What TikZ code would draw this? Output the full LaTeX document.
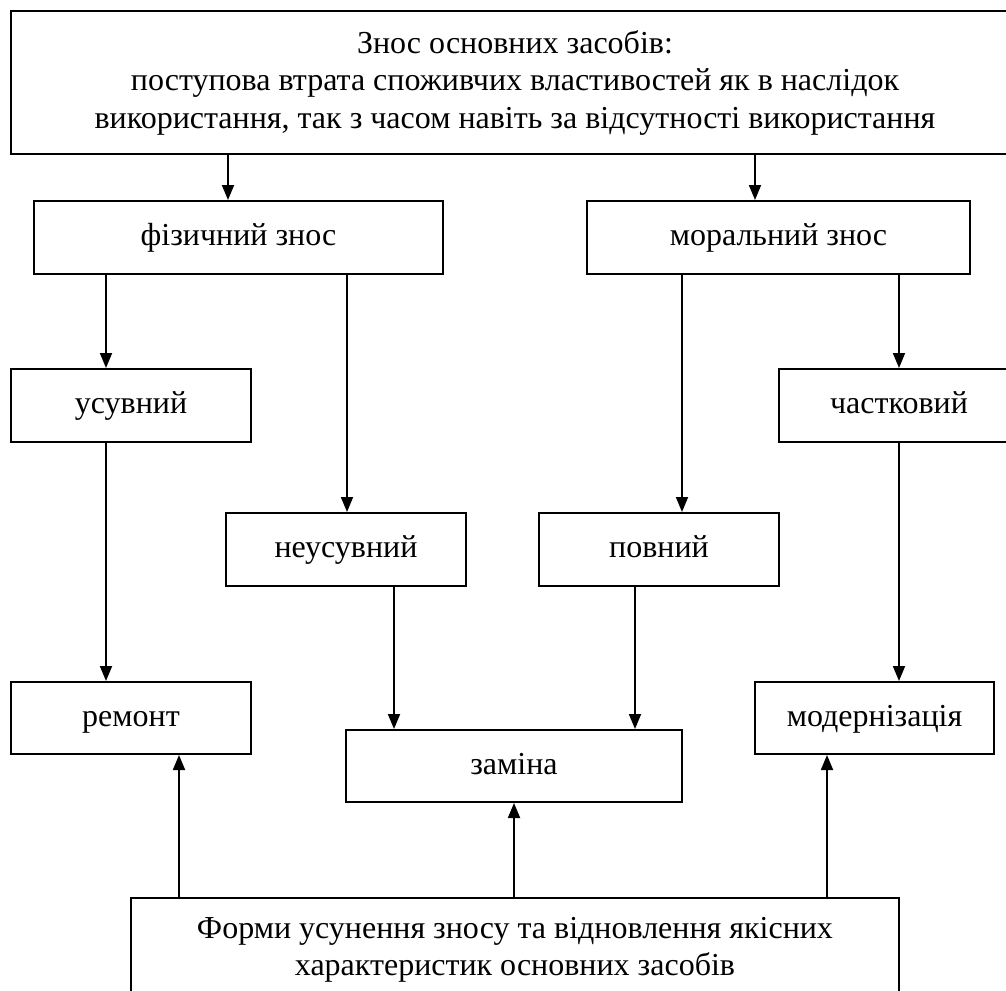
\documentclass[tikz,border=0pt]{standalone}
\usepackage{fontspec}
\setmainfont{Liberation Serif}
\usetikzlibrary{arrows.meta}
\tikzset{
  box/.style={draw, line width=2pt, inner sep=0pt, align=center, font=\fontsize{32}{37.5}\selectfont},
  sbox/.style={box, text height=23pt, text depth=7pt},
  arr/.style={line width=1.8pt, -{Triangle[width=12pt,length=15pt]}},
}
\begin{document}
\begin{tikzpicture}[x=1pt,y=-1pt]
\useasboundingbox (0,0) rectangle (1006,990);
\clip (0,0) rectangle (1006,990);
% boxes (centers from pixel measurements)
\node[box, minimum width=1008pt, minimum height=143pt] (top) at (515,82.5)
  {Знос основних засобів:\\поступова втрата споживчих властивостей як в наслідок\\використання, так з часом навіть за відсутності використання};
\node[sbox, minimum width=409pt, minimum height=73pt] (fiz) at (238.5,237.5) {фізичний знос};
\node[sbox, minimum width=383pt, minimum height=73pt] (mor) at (778.5,237.5) {моральний знос};
\node[sbox, minimum width=240pt, minimum height=73pt] (usu) at (131,405.5) {усувний};
\node[sbox, minimum width=240pt, minimum height=73pt] (cha) at (899,405.5) {частковий};
\node[sbox, minimum width=240pt, minimum height=73pt] (neu) at (346,549.5) {неусувний};
\node[sbox, minimum width=240pt, minimum height=73pt] (pov) at (659,549.5) {повний};
\node[sbox, minimum width=240pt, minimum height=72pt] (rem) at (131,718) {ремонт};
\node[sbox, minimum width=336pt, minimum height=72pt] (zam) at (514,766) {заміна};
\node[sbox, minimum width=239pt, minimum height=72pt] (mod) at (874.5,718) {модернізація};
\node[box, minimum width=768pt, minimum height=104pt] (bot) at (515,950)
  {Форми усунення зносу та відновлення якісних\\характеристик основних засобів};
% column coordinates
\coordinate (c1) at (228,0);
\coordinate (c2) at (755,0);
\coordinate (c3) at (106,0);
\coordinate (c4) at (347,0);
\coordinate (c5) at (682,0);
\coordinate (c6) at (899,0);
\coordinate (c7) at (394,0);
\coordinate (c8) at (635,0);
\coordinate (c9) at (179,0);
\coordinate (c10) at (514,0);
\coordinate (c11) at (827,0);
% connectors
\draw[arr] (top.south -| c1) -- (fiz.north -| c1);
\draw[arr] (top.south -| c2) -- (mor.north -| c2);
\draw[arr] (fiz.south -| c3) -- (usu.north -| c3);
\draw[arr] (fiz.south -| c4) -- (neu.north -| c4);
\draw[arr] (mor.south -| c5) -- (pov.north -| c5);
\draw[arr] (mor.south -| c6) -- (cha.north -| c6);
\draw[arr] (usu.south -| c3) -- (rem.north -| c3);
\draw[arr] (neu.south -| c7) -- (zam.north -| c7);
\draw[arr] (pov.south -| c8) -- (zam.north -| c8);
\draw[arr] (cha.south -| c6) -- (mod.north -| c6);
\draw[arr] (bot.north -| c9) -- (rem.south -| c9);
\draw[arr] (bot.north -| c10) -- (zam.south -| c10);
\draw[arr] (bot.north -| c11) -- (mod.south -| c11);
\end{tikzpicture}
\end{document}
